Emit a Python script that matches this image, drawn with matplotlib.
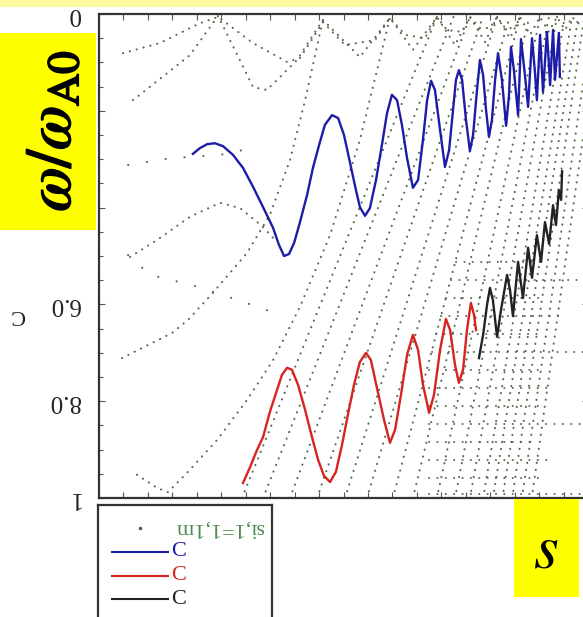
import numpy as np
import matplotlib
matplotlib.use("Agg")
import matplotlib.pyplot as plt
from matplotlib.patches import Rectangle
import matplotlib.patheffects as pe

plt.rcParams['mathtext.fontset'] = 'stix'
SERIF = ['Liberation Serif', 'DejaVu Serif']

# ---- branch C (blue) ----
blue_s = [3.84, 4.13, 4.42, 4.74, 5.07, 5.48, 5.89, 6.30, 6.71, 7.12, 7.36, 7.57, 7.77, 7.98,
          8.22, 8.51, 8.75, 9.00, 9.24, 9.53, 9.78, 10.02, 10.27, 10.51, 10.67, 10.88, 11.08,
          11.33, 11.57, 11.78, 11.98, 12.19, 12.39, 12.60, 12.84, 13.05, 13.25, 13.42, 13.58,
          13.74, 13.95, 14.15, 14.32, 14.48, 14.60, 14.72, 14.85, 15.01, 15.17, 15.30, 15.46,
          15.58, 15.71, 15.83, 15.95, 16.07, 16.20, 16.32, 16.48, 16.65, 16.77, 16.85, 16.97,
          17.14, 17.26, 17.42, 17.55, 17.71, 17.83, 17.91, 18.04, 18.16, 18.32, 18.45, 18.57,
          18.65, 18.81, 18.85]
blue_w = [0.289, 0.277, 0.269, 0.267, 0.273, 0.291, 0.318, 0.357, 0.399, 0.442, 0.477, 0.500,
          0.496, 0.473, 0.430, 0.374, 0.318, 0.271, 0.229, 0.209, 0.215, 0.250, 0.308, 0.364,
          0.399, 0.417, 0.401, 0.343, 0.271, 0.205, 0.167, 0.178, 0.229, 0.298, 0.359, 0.343,
          0.260, 0.178, 0.138, 0.157, 0.240, 0.316, 0.281, 0.198, 0.136, 0.116, 0.136, 0.219,
          0.283, 0.250, 0.157, 0.095, 0.126, 0.198, 0.254, 0.219, 0.136, 0.081, 0.136, 0.231,
          0.167, 0.068, 0.116, 0.209, 0.052, 0.126, 0.192, 0.050, 0.120, 0.178, 0.043, 0.161,
          0.037, 0.147, 0.033, 0.136, 0.039, 0.130]

# ---- branch C (red) ----
red_s = [5.89, 6.18, 6.46, 6.71, 6.99, 7.28, 7.48, 7.69, 7.89, 8.14, 8.43, 8.71, 8.96, 9.20,
         9.45, 9.69, 9.94, 10.18, 10.43, 10.67, 10.92, 11.12, 11.37, 11.66, 11.90, 12.11, 12.35,
         12.60, 12.84, 13.05, 13.25, 13.50, 13.70, 13.95, 14.19, 14.36, 14.56, 14.72, 14.89,
         15.05, 15.21, 15.34, 15.42]
red_w = [0.969, 0.936, 0.901, 0.874, 0.822, 0.777, 0.746, 0.731, 0.735, 0.766, 0.818, 0.874,
         0.921, 0.954, 0.967, 0.946, 0.890, 0.828, 0.766, 0.719, 0.700, 0.715, 0.773, 0.839,
         0.886, 0.859, 0.787, 0.704, 0.663, 0.694, 0.766, 0.824, 0.787, 0.694, 0.630, 0.653,
         0.725, 0.762, 0.735, 0.653, 0.597, 0.622, 0.653]

# ---- branch C (black) ----
black_s = [15.54, 15.71, 15.87, 15.99, 16.11, 16.28, 16.44, 16.69, 16.81, 16.93, 17.14, 17.34,
           17.55, 17.71, 17.91, 18.08, 18.24, 18.41, 18.57, 18.69, 18.81, 18.90, 18.94]
black_w = [0.711, 0.663, 0.601, 0.566, 0.591, 0.667, 0.612, 0.539, 0.570, 0.624, 0.512, 0.587,
           0.483, 0.545, 0.457, 0.512, 0.430, 0.475, 0.395, 0.436, 0.364, 0.384, 0.325]

# ---- continuum branches (dotted), each as (s, w) ----
zigzag_upper = ([1.39, 3.72, 4.87, 6.30, 6.87, 8.10, 9.16, 10.67, 11.90, 12.84, 13.82, 14.56, 15.17,
                 15.79, 16.28, 16.81, 17.22, 17.63, 18.04, 18.40, 18.73, 19.06, 19.35, 19.80],
                [0.178, 0.085, 0.004, 0.151, 0.157, 0.095, 0.012, 0.089, 0.008, 0.074, 0.006, 0.064,
                 0.006, 0.058, 0.006, 0.050, 0.006, 0.043, 0.006, 0.037, 0.006, 0.033, 0.006, 0.029])
zigzag_lower = ([0.98, 2.49, 4.13, 4.87, 6.30, 7.69, 8.22, 9.16, 10.06, 11.29, 11.90, 12.52, 13.33,
                 13.82, 14.23, 14.85, 15.17, 15.58, 15.99, 16.28, 16.61, 17.01, 17.22],
                [0.081, 0.060, 0.019, 0.006, 0.060, 0.099, 0.091, 0.017, 0.064, 0.054, 0.008, 0.043,
                 0.050, 0.006, 0.033, 0.037, 0.006, 0.029, 0.029, 0.006, 0.029, 0.029, 0.006])
branch_d1 = ([1.55, 2.37, 2.82, 3.60, 4.83, 6.05, 7.12, 8.22, 9.45, 10.67, 11.90],
             [0.952, 0.979, 0.988, 0.948, 0.880, 0.798, 0.715, 0.605, 0.457, 0.260, 0.008])
branch_d2 = ([0.94, 2.99, 3.64, 4.66, 6.05, 6.99, 7.81, 8.43, 9.16],
             [0.711, 0.659, 0.632, 0.576, 0.494, 0.415, 0.302, 0.178, 0.012])
branch_e = ([1.27, 2.37, 3.72, 4.95, 5.77, 6.71, 7.20],
            [0.502, 0.467, 0.419, 0.390, 0.401, 0.440, 0.467])
# straight continuum legs: foot on w = 1 and apex on w = 0
leg_foot = [5.85, 6.71, 7.81, 8.92, 10.06, 10.96, 12.02, 12.84, 13.82, 14.56, 15.17, 15.71, 16.11,
            16.50, 16.90, 17.30, 17.70]
leg_apex = [13.82, 14.50, 15.17, 15.70, 16.28, 16.80, 17.22, 17.60, 18.04, 18.40, 18.73, 19.05,
            19.35, 19.60, 19.85, 20.20, 20.50]
# sparse branches
sparse_a = ([1.19, 2.90, 4.95, 6.46], [0.312, 0.298, 0.291, 0.275])
sparse_b = ([1.19, 2.09, 3.80, 5.68, 6.87], [0.498, 0.539, 0.560, 0.591, 0.612])
# rows of continuum points in the dense high-s band
row_w = [0.512, 0.550, 0.587, 0.624, 0.661, 0.698, 0.736, 0.773, 0.810, 0.847, 0.884, 0.921,
         0.959, 0.992]
row_start = [14.60, 14.40, 14.20, 14.00, 13.80, 13.60, 13.50, 13.50, 13.50, 13.50, 13.50,
             13.50, 13.50, 13.50]
row_end = [18.04, 19.80, 18.04, 18.80, 18.04, 19.80, 18.04, 18.40, 18.04, 19.80, 17.80, 18.40,
           18.04, 19.80]

ytick_vals = [0, 0.2, 0.4, 0.6, 0.8, 1.0]
ytick_text = ['0', '', '', '6.0', '8.0', '1']

W, H = 583, 617
fig = plt.figure(figsize=(W / 100, H / 100), dpi=100)
fig.patch.set_facecolor('white')

# pale band along the top edge
fig.add_artist(Rectangle((0, 1 - 7 / H), 1, 7 / H, transform=fig.transFigure,
                         facecolor='#fbfa9c', edgecolor='none', zorder=0))

ax = fig.add_axes([99 / W, 1 - 498 / H, (588 - 99) / W, (498 - 14) / H])
ax.set_xlim(0, 20)
ax.set_ylim(1, 0)

DOT = '#55694b'
dot_style = dict(color=DOT, lw=1.5, ls=(0, (0.1, 3.3)), dash_capstyle='round', zorder=2)
row_style = dict(color=DOT, lw=1.4, ls=(0, (0.1, 4.2)), dash_capstyle='round', zorder=2)
sparse_style = dict(color=DOT, lw=1.5, ls=(0, (0.1, 9)), dash_capstyle='round', zorder=2)

for s, w in (zigzag_upper, zigzag_lower, branch_d1, branch_d2, branch_e):
    ax.plot(s, w, **dot_style)
for f, a in zip(leg_foot, leg_apex):
    ax.plot([f, a], [1.0, 0.006], **dot_style)
for s, w in (sparse_a, sparse_b):
    ax.plot(s, w, **sparse_style)
for w, a, b in zip(row_w, row_start, row_end):
    ax.plot([a, b], [w, w], **row_style)

ax.plot(blue_s, blue_w, color='#1c1ca8', lw=1.7, zorder=3)
ax.plot(red_s, red_w, color='#d8231f', lw=1.7, zorder=3)
ax.plot(black_s, black_w, color='#222222', lw=1.7, zorder=3)

for sp in ax.spines.values():
    sp.set_color('#333333')
    sp.set_linewidth(1.6)

ax.set_xticks(np.arange(1, 20))
ax.set_yticks(ytick_vals)
ax.set_yticks(np.arange(0, 1.001, 0.05), minor=True)
ax.set_yticklabels(ytick_text, rotation=180, fontfamily=SERIF, fontsize=18, color='#222222')
for lbl in ax.get_yticklabels():
    lbl.set_verticalalignment('center')
ax.tick_params(which='both', direction='in', top=True, right=True, length=4, width=0.8,
               color='#555555', labelbottom=False, pad=14)
ax.tick_params(which='minor', length=3)
ax.set_ylabel('C', rotation=180, fontfamily=SERIF, fontsize=16, color='#222222')
ax.yaxis.set_label_coords(-0.166, 0.399)

# yellow caption boxes
fig.add_artist(Rectangle((0, 1 - 230 / H), 96 / W, 197 / H, transform=fig.transFigure,
                         facecolor='#ffff00', edgecolor='none', zorder=5))
fig.text(52 / W, 1 - 131 / H, r'$\omega/\omega_{\mathrm{A0}}$', rotation=90, ha='center',
         va='center', fontsize=46, zorder=6,
         path_effects=[pe.withStroke(linewidth=1.3, foreground='black')])
fig.add_artist(Rectangle((514 / W, 1 - 597 / H), 65 / W, 98 / H, transform=fig.transFigure,
                         facecolor='#ffff00', edgecolor='none', zorder=5))
fig.text(546 / W, 1 - 550 / H, r'$s$', ha='center', va='center', fontsize=46, zorder=6)

# key box below the plot
kax = fig.add_axes([98 / W, 0, (272 - 98) / W, (617 - 505) / H])
kax.set_xlim(98, 272)
kax.set_ylim(617, 505)
kax.set_xticks([])
kax.set_yticks([])
kax.spines['bottom'].set_visible(False)
for k in ('left', 'top', 'right'):
    kax.spines[k].set_color('#333333')
    kax.spines[k].set_linewidth(1.6)
kax.plot([140], [528], 'o', ms=1.5, color='#555555')
kax.text(220, 528, 'si,1=1,1m', rotation=180, ha='center', va='center', fontfamily=SERIF,
         fontsize=16, color='#4c8a4c')
for yy, col in ((552, '#1c1ca8'), (576, '#d8231f'), (599, '#222222')):
    kax.plot([112, 168], [yy, yy], color=col, lw=1.5)
    kax.text(171, yy, 'C', ha='left', va='center', fontfamily=SERIF, fontsize=16, color=col)

fig.savefig('out.png', dpi=100)
